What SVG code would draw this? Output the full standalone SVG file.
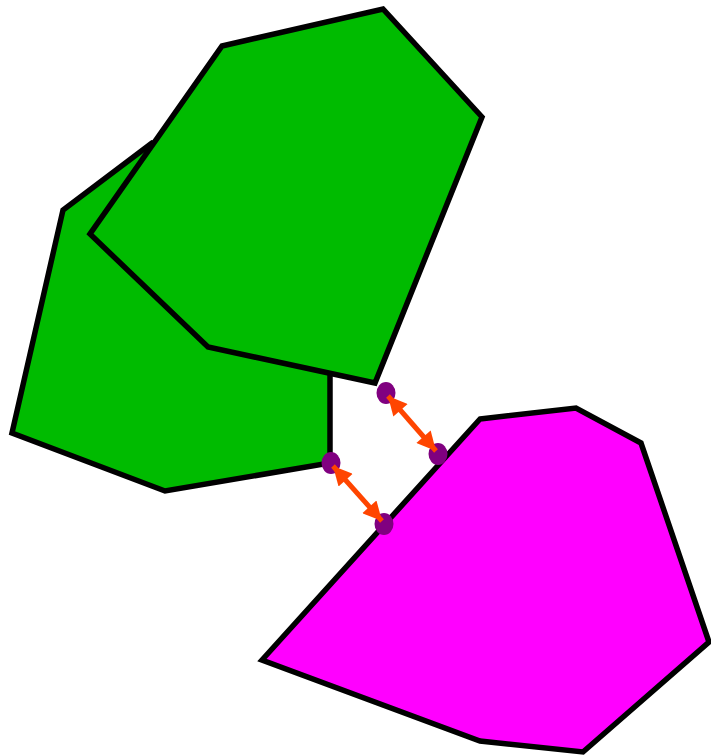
<svg xmlns="http://www.w3.org/2000/svg" width="711" height="756" viewBox="0 0 711 756">
<style>
.shape{stroke:#000;stroke-width:5.5;stroke-linejoin:miter}
.g{fill:#00bb00}
.m{fill:#ff00ff}
.pt{fill:#800080}
.arr{stroke:#ff4500;stroke-width:5;fill:none;marker-start:url(#ah);marker-end:url(#ah)}
</style>
<defs>
<marker id="ah" viewBox="0 0 10 10" refX="10" refY="5" markerWidth="4.8" markerHeight="3.8" orient="auto-start-reverse" markerUnits="strokeWidth">
<path d="M0,0 L10,5 L0,10 z" fill="#ff4500"/>
</marker>
</defs>
<g id="green-back"><polygon class="shape g" points="152,143 63,210 12,433 165,491 330,463 330,370 300,200"/></g>
<g id="green-front"><polygon class="shape g" points="222,46 383,9 482,117 375,383 208,347 90,234"/></g>
<g id="magenta"><polygon class="shape m" points="480,419 576,408 641,443 709,642 583,752 480,741 262,660"/></g>
<g id="points">
<ellipse class="pt" cx="386" cy="393" rx="9.5" ry="11"/>
<ellipse class="pt" cx="438" cy="454" rx="9.5" ry="11"/>
<ellipse class="pt" cx="331" cy="463" rx="9.5" ry="11"/>
<ellipse class="pt" cx="384" cy="524" rx="9.5" ry="11"/>
</g>
<g id="connectors">
<line class="arr" x1="388" y1="396" x2="436" y2="451"/>
<line class="arr" x1="333" y1="466" x2="382" y2="521"/>
</g>
</svg>
